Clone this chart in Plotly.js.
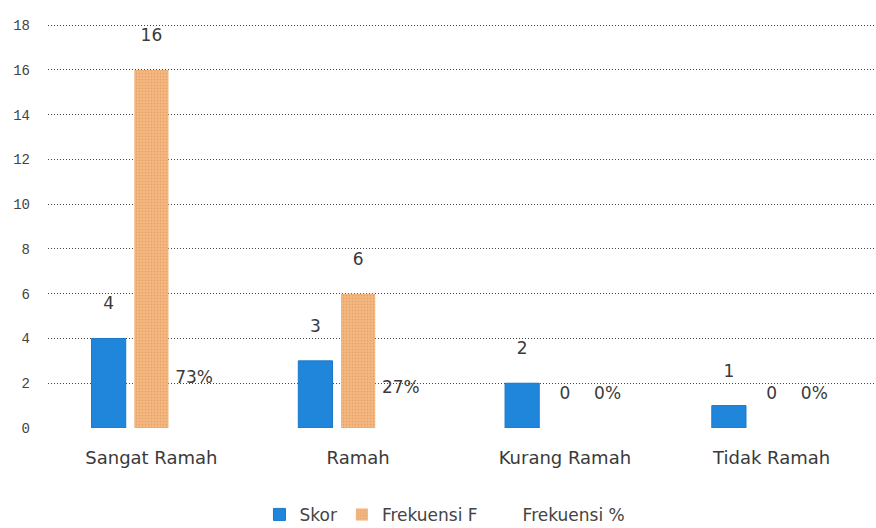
<!DOCTYPE html>
<html>
<head>
<meta charset="utf-8">
<script src="https://cdn.plot.ly/plotly-3.0.1.min.js"></script>
<style>
  html, body { margin: 0; padding: 0; background: #ffffff; }
  #chart { width: 876px; height: 528px; }
</style>
</head>
<body>
<div id="chart"></div>
<script>
// Categories and series values
const categories = ['Sangat Ramah', 'Ramah', 'Kurang Ramah', 'Tidak Ramah'];
const skor = [4, 3, 2, 1];
const frekuensiF = [16, 6, 0, 0];
const frekuensiPct = [0.73, 0.27, 0, 0];
const yTicks = [0, 2, 4, 6, 8, 10, 12, 14, 16, 18];

const labelFont = { family: 'DejaVu Sans, sans-serif', size: 17, color: '#3a3a3a' };

const traces = [
  {
    type: 'bar', name: 'Skor', x: categories, y: skor,
    marker: { color: '#1f86dc', line: { color: '#1a78c8', width: 1 } },
    texttemplate: '%{y}<br> ', textposition: 'outside', cliponaxis: false,
    constraintext: 'none', textfont: labelFont
  },
  {
    type: 'bar', name: 'Frekuensi F', x: categories, y: frekuensiF,
    marker: {
      color: '#f2b37a',
      pattern: { shape: '.', fgcolor: '#e6a061', bgcolor: '#f3b680', size: 3, solidity: 0.2 }
    },
    texttemplate: '%{y}<br> ', textposition: 'outside', cliponaxis: false,
    constraintext: 'none', textfont: labelFont
  },
  {
    type: 'bar', name: 'Frekuensi %', x: categories, y: frekuensiPct,
    marker: { color: 'rgba(255,255,255,0)' },
    texttemplate: '%{y:.0%}<br> ', textposition: 'outside', cliponaxis: false,
    constraintext: 'none', textfont: labelFont
  }
];

const layout = {
  width: 876, height: 528,
  paper_bgcolor: '#ffffff', plot_bgcolor: '#ffffff',
  margin: { l: 48, r: 1, t: 24, b: 100, autoexpand: false },
  barmode: 'group',
  bargap: 0.38,
  bargroupgap: 0.2,
  showlegend: true,
  legend: {
    orientation: 'h', x: 0.48, xanchor: 'center', y: -0.215, yanchor: 'middle',
    font: { family: 'DejaVu Sans, sans-serif', size: 17, color: '#444444' },
    itemwidth: 30, tracegroupgap: 0
  },
  xaxis: {
    type: 'category',
    showgrid: false, zeroline: false, showline: false,
    ticks: '', ticklabelstandoff: 17,
    tickfont: { family: 'DejaVu Sans, sans-serif', size: 18, color: '#3a3a3a' }
  },
  yaxis: {
    range: [0, 18.05],
    tickvals: yTicks,
    showgrid: true, gridcolor: '#444444', griddash: '1px,2px', gridwidth: 1,
    zeroline: true, zerolinecolor: '#ffffff',
    showline: false, ticks: '', ticklabelstandoff: 17,
    tickfont: { family: 'Liberation Mono, monospace', size: 14, color: '#444444' }
  }
};

Plotly.newPlot('chart', traces, layout, { displayModeBar: false, staticPlot: true });
</script>
</body>
</html>
